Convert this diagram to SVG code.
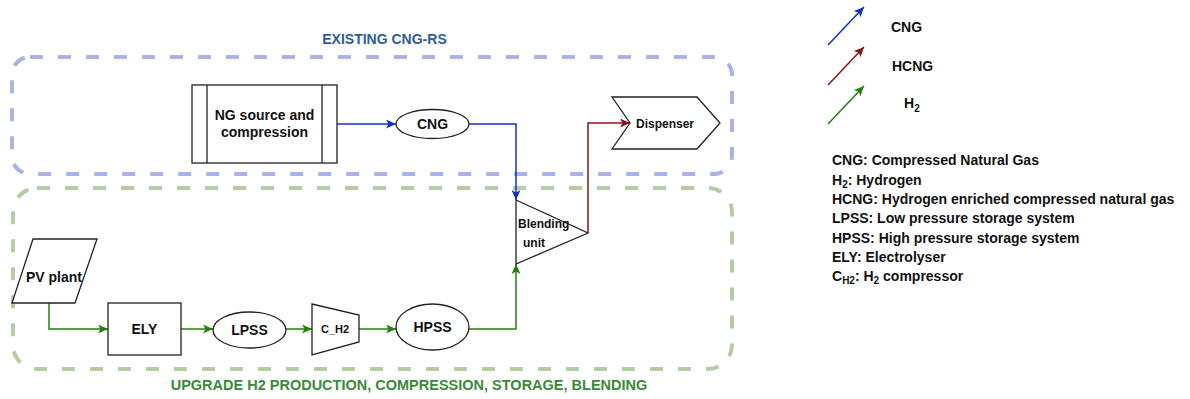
<svg xmlns="http://www.w3.org/2000/svg" width="1190" height="399" viewBox="0 0 1190 399">
<style>
text{font-family:"Liberation Sans",Arial,sans-serif;font-weight:bold;fill:#111}
.shape{fill:#fff;stroke:#222;stroke-width:1.3}
.c{text-anchor:middle}
.n14{font-size:14px}
.n12{font-size:12px}
.blue{stroke:#1030cc;stroke-width:1.5;fill:none}
.red{stroke:#8a1414;stroke-width:1.5;fill:none}
.green{stroke:#23800f;stroke-width:1.5;fill:none}
.dash{fill:none;stroke-width:4;stroke-dasharray:13 15}
</style>
<defs>
<marker id="aB" markerUnits="userSpaceOnUse" markerWidth="11" markerHeight="9" refX="10" refY="4.5" orient="auto"><path d="M0,0 L10,4.5 L0,9 L2.5,4.5 z" fill="#1030cc"/></marker>
<marker id="aR" markerUnits="userSpaceOnUse" markerWidth="11" markerHeight="9" refX="10" refY="4.5" orient="auto"><path d="M0,0 L10,4.5 L0,9 L2.5,4.5 z" fill="#8a1414"/></marker>
<marker id="aG" markerUnits="userSpaceOnUse" markerWidth="11" markerHeight="9" refX="10" refY="4.5" orient="auto"><path d="M0,0 L10,4.5 L0,9 L2.5,4.5 z" fill="#23800f"/></marker>
</defs>
<rect width="1190" height="399" fill="#fff"/>

<g id="groups">
<rect class="dash" x="12" y="57" width="720" height="117" rx="18" stroke="#a9b3e8"/>
<rect class="dash" x="13" y="188" width="719" height="181" rx="24" stroke="#b5cda3"/>
<text class="c" x="384.5" y="44" font-size="14" style="fill:#2d5e98">EXISTING CNG-RS</text>
<text class="c" x="409" y="390" font-size="14.5" style="fill:#3a8a3a">UPGRADE H2 PRODUCTION, COMPRESSION, STORAGE, BLENDING</text>
</g>

<g id="connectors">
<polyline class="blue" points="337,124 396,124" marker-end="url(#aB)"/>
<polyline class="blue" points="469,124 516,124 516,200" marker-end="url(#aB)"/>
<polyline class="red" points="588,233 588,123 630,123" marker-end="url(#aR)"/>
<polyline class="green" points="49,303 49,329 108,329" marker-end="url(#aG)"/>
<polyline class="green" points="181,329 213,329" marker-end="url(#aG)"/>
<polyline class="green" points="286,329 312,329" marker-end="url(#aG)"/>
<polyline class="green" points="359,329 396,329" marker-end="url(#aG)"/>
<polyline class="green" points="469,329 516,329 516,264" marker-end="url(#aG)"/>
</g>

<g id="ng">
<rect class="shape" x="192" y="85" width="145" height="78"/>
<line class="shape" x1="207" y1="85" x2="207" y2="163"/>
<line class="shape" x1="322" y1="85" x2="322" y2="163"/>
<text class="c n14" x="264.5" y="119.5">NG source and</text>
<text class="c n14" x="264.5" y="137">compression</text>
</g>

<g id="cng">
<ellipse class="shape" cx="432.5" cy="124" rx="36.5" ry="14.5"/>
<text class="c n14" x="432.5" y="129">CNG</text>
</g>

<g id="blending">
<polygon class="shape" points="516,200 588,233 516,264"/>
<text class="n12" x="518" y="228">Blending</text>
<text class="n12" x="523" y="247">unit</text>
</g>

<g id="dispenser">
<polygon class="shape" points="612,97 697,97 720,123 697,149 612,149 630,123"/>
<text class="n12" x="636" y="127.5">Dispenser</text>
</g>

<g id="pv">
<polygon class="shape" points="33,239 97,239 75,303 12,303"/>
<text class="c n14" x="54" y="282">PV plant</text>
</g>

<g id="ely">
<rect class="shape" x="108" y="303" width="73" height="52"/>
<text class="c n14" x="144.5" y="334">ELY</text>
</g>

<g id="lpss">
<ellipse class="shape" cx="249.5" cy="330" rx="36.5" ry="18"/>
<text class="c n14" x="249.5" y="334.5">LPSS</text>
</g>

<g id="ch2">
<polygon class="shape" points="312,304 359,315 359,342 312,355"/>
<text class="c" x="335" y="333" font-size="11">C_H2</text>
</g>

<g id="hpss">
<ellipse class="shape" cx="432.5" cy="327" rx="36.5" ry="23"/>
<text class="c n14" x="432.5" y="332">HPSS</text>
</g>

<g id="legend-arrows">
<line class="blue" x1="828" y1="45" x2="864" y2="7" marker-end="url(#aB)"/>
<line class="red" x1="828" y1="85" x2="864" y2="47" marker-end="url(#aR)"/>
<line class="green" x1="828" y1="124" x2="864" y2="86" marker-end="url(#aG)"/>
<text class="n14" x="891" y="32">CNG</text>
<text class="n14" x="892" y="71">HCNG</text>
<text class="n14" x="904" y="108">H<tspan font-size="10" dy="4">2</tspan></text>
</g>

<g id="legend-text" class="n14">
<text x="832" y="165">CNG: Compressed Natural Gas</text>
<text x="832" y="184.5">H<tspan font-size="10" dy="3">2</tspan><tspan dy="-3">: Hydrogen</tspan></text>
<text x="832" y="204">HCNG: Hydrogen enriched compressed natural gas</text>
<text x="832" y="223">LPSS: Low pressure storage system</text>
<text x="832" y="242.5">HPSS: High pressure storage system</text>
<text x="832" y="262">ELY: Electrolyser</text>
<text x="832" y="281">C<tspan font-size="10" dy="3">H2</tspan><tspan dy="-3">: H</tspan><tspan font-size="10" dy="3">2</tspan><tspan dy="-3"> compressor</tspan></text>
</g>
</svg>
